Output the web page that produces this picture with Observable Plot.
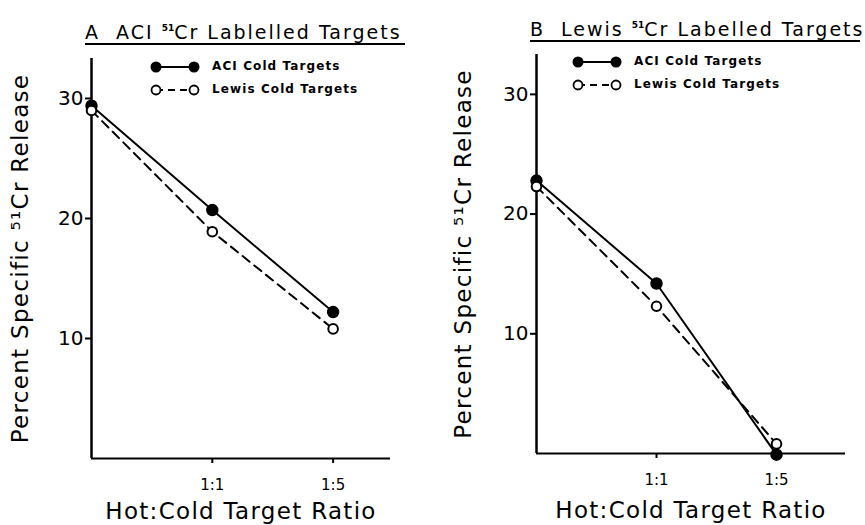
<!DOCTYPE html>
<html>
<head>
<meta charset="utf-8">
<script src="https://cdn.jsdelivr.net/npm/d3@7"></script>
<script src="https://cdn.jsdelivr.net/npm/@observablehq/plot@0.6"></script>
<style>
  html, body { margin: 0; padding: 0; background: #fff; }
  #wrap { position: relative; width: 865px; height: 525px; overflow: hidden; font-family: "DejaVu Sans", sans-serif; color: #000; }
  .panel { position: absolute; top: 0; }
  .title { position: absolute; font-size: 19px; letter-spacing: 2px; white-space: nowrap; border-bottom: 2px solid #000; padding-bottom: 0px; line-height: 21px; }
  .title sup { font-size: 9px; font-weight: bold; vertical-align: 8px; letter-spacing: 0; }
  .legend { position: absolute; font-size: 12px; letter-spacing: 1.1px; font-weight: bold; line-height: 23px; }
  .legend div { display: flex; align-items: center; white-space: nowrap; }
  .legend svg { margin-right: 12px; }
  g[aria-label="y-axis label"] text, g[aria-label="x-axis label"] text { letter-spacing: 1.3px; }
</style>
</head>
<body>
<div id="wrap"></div>
<script>
// ---- data ----
const ratioPos = [0, 1, 2];           // hot only, 1:1, 1:5
const ratioTicks = [1, 2];
const ratioLabels = ["1:1", "1:5"];
const yTicks = [10, 20, 30];

const aciA   = [29.4, 20.7, 12.2];
const lewisA = [29.0, 18.9, 10.8];
const aciB   = [22.8, 14.2, -0.1];
const lewisB = [22.3, 12.3, 0.8];

const seriesNames = ["ACI Cold Targets", "Lewis Cold Targets"];
const titles = [
  {letter: "A", pre: "ACI ", post: "Cr Lablelled Targets"},
  {letter: "B", pre: "Lewis ", post: "Cr Labelled Targets"}
];
const yLabel = "Percent Specific \u2075\u00b9Cr Release";
const xLabel = "Hot:Cold Target Ratio";

function rows(vals) { return ratioPos.map((p, i) => ({x: p, y: vals[i]})); }

function panel(aci, lewis, opts) {
  const a = rows(aci), l = rows(lewis);
  return Plot.plot({
    width: 432,
    height: 525,
    marginLeft: opts.ml,
    marginRight: opts.mr,
    marginTop: opts.mt,
    marginBottom: opts.mb,
    style: {fontFamily: "DejaVu Sans, sans-serif", background: "white", color: "black"},
    x: {domain: [0, opts.xmax]},
    y: {domain: [0, 33.33]},
    marks: [
      Plot.ruleY([0], {stroke: "black", strokeWidth: 2}),
      Plot.ruleX([0], {stroke: "black", strokeWidth: 2.5}),
      Plot.axisY({ticks: yTicks, tickSize: 6, tickPadding: 2, fontSize: 20, label: null, strokeWidth: 2}),
      Plot.axisY({ticks: [], label: yLabel, labelAnchor: "center", labelOffset: opts.ylo, labelArrow: "none", fontSize: 23}),
      Plot.axisX({ticks: ratioTicks, tickFormat: d => ratioLabels[ratioTicks.indexOf(d)], tickSize: 5, tickPadding: 16, fontSize: 15, label: null, strokeWidth: 2}),
      Plot.axisX({ticks: [], label: xLabel, labelAnchor: "center", labelOffset: opts.xlo, labelArrow: "none", fontSize: 23}),
      Plot.line(a, {x: "x", y: "y", stroke: "black", strokeWidth: 2}),
      Plot.line(l, {x: "x", y: "y", stroke: "black", strokeWidth: 2, strokeDasharray: "9,6"}),
      Plot.dot(a, {x: "x", y: "y", r: 5.5, fill: "black", stroke: "black"}),
      Plot.dot(l, {x: "x", y: "y", r: 4.8, fill: "white", stroke: "black", strokeWidth: 2})
    ]
  });
}

function legendEl(left, top) {
  const d = document.createElement("div");
  d.className = "legend";
  d.style.left = left + "px";
  d.style.top = top + "px";
  const s1 = `<svg width="50" height="14"><line x1="6" y1="7" x2="44" y2="7" stroke="black" stroke-width="2"/><circle cx="6" cy="7" r="5.5" fill="black"/><circle cx="44" cy="7" r="5.5" fill="black"/></svg>`;
  const s2 = `<svg width="50" height="14"><line x1="6" y1="7" x2="44" y2="7" stroke="black" stroke-width="2" stroke-dasharray="7,5"/><circle cx="6" cy="7" r="4.5" fill="white" stroke="black" stroke-width="1.8"/><circle cx="44" cy="7" r="4.5" fill="white" stroke="black" stroke-width="1.8"/></svg>`;
  d.innerHTML = `<div>${s1}<span>${seriesNames[0]}</span></div><div>${s2}<span>${seriesNames[1]}</span></div>`;
  return d;
}

function titleEl(t, left, top, width) {
  const d = document.createElement("div");
  d.className = "title";
  d.style.left = left + "px";
  d.style.top = top + "px";
  d.style.width = width + "px";
  d.innerHTML = `${t.letter}&nbsp;&nbsp;${t.pre}<sup>51</sup>${t.post}`;
  return d;
}

const wrap = document.getElementById("wrap");

const pA = document.createElement("div");
pA.className = "panel"; pA.style.left = "0px";
pA.appendChild(panel(aciA, lewisA, {ml: 91, mr: 42, mt: 58, mb: 67, xmax: 2.475, ylo: 80, xlo: 60}));
wrap.appendChild(pA);

const pB = document.createElement("div");
pB.className = "panel"; pB.style.left = "433px";
pB.appendChild(panel(aciB, lewisB, {ml: 103, mr: 20, mt: 54, mb: 72, xmax: 2.575, ylo: 82, xlo: 64}));
wrap.appendChild(pB);

wrap.appendChild(titleEl(titles[0], 85, 18, 320));
wrap.appendChild(titleEl(titles[1], 530, 15, 330));
wrap.appendChild(legendEl(150, 55));
wrap.appendChild(legendEl(572, 50));
</script>
</body>
</html>
